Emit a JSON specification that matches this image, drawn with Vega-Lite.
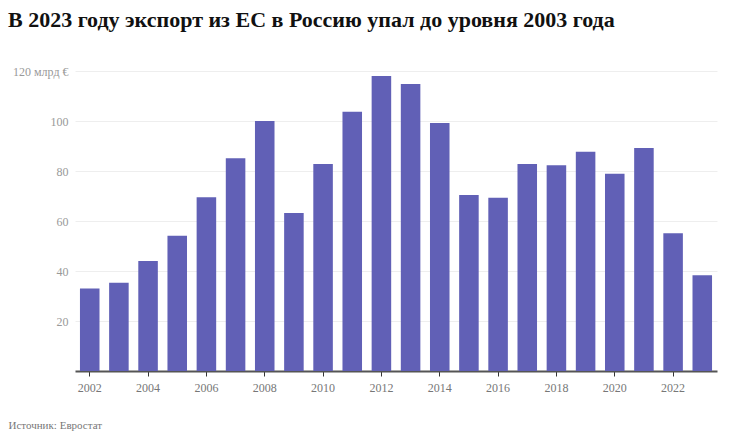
{
  "$schema": "https://vega.github.io/schema/vega-lite/v6.json",
  "width": 642,
  "height": 300,
  "autosize": {"type": "none"},
  "padding": {"left": 75, "top": 71, "right": 27, "bottom": 65},
  "background": "white",
  "title": {
    "text": "В 2023 году экспорт из ЕС в Россию упал до уровня 2003 года",
    "anchor": "start",
    "frame": "group",
    "font": "Liberation Serif",
    "fontSize": 22,
    "fontWeight": "bold",
    "color": "#111",
    "baseline": "alphabetic",
    "dx": -67,
    "offset": 16
  },
  "data": {
    "values": [
      {"year": 2002, "value": 33.0},
      {"year": 2003, "value": 35.3},
      {"year": 2004, "value": 44.0},
      {"year": 2005, "value": 54.1},
      {"year": 2006, "value": 69.5},
      {"year": 2007, "value": 85.1},
      {"year": 2008, "value": 100.0},
      {"year": 2009, "value": 63.2},
      {"year": 2010, "value": 82.8},
      {"year": 2011, "value": 103.7},
      {"year": 2012, "value": 118.0},
      {"year": 2013, "value": 114.8},
      {"year": 2014, "value": 99.2},
      {"year": 2015, "value": 70.4},
      {"year": 2016, "value": 69.3},
      {"year": 2017, "value": 82.8},
      {"year": 2018, "value": 82.3},
      {"year": 2019, "value": 87.7},
      {"year": 2020, "value": 78.9},
      {"year": 2021, "value": 89.2},
      {"year": 2022, "value": 55.1},
      {"year": 2023, "value": 38.3}
    ]
  },
  "mark": {"type": "bar", "color": "#6160b6"},
  "encoding": {
    "x": {
      "field": "year",
      "type": "ordinal",
      "scale": {"paddingInner": 0.33, "paddingOuter": 0.17},
      "axis": {
        "values": [2002, 2004, 2006, 2008, 2010, 2012, 2014, 2016, 2018, 2020, 2022],
        "labelAngle": 0,
        "labelFont": "Liberation Serif",
        "labelFontSize": 12,
        "labelColor": "#777",
        "labelPadding": 6,
        "domainColor": "#555",
        "domainWidth": 2,
        "tickColor": "#333",
        "tickSize": 5,
        "title": "Источник: Евростат",
        "titleFont": "Liberation Serif",
        "titleFontSize": 11,
        "titleFontWeight": "normal",
        "titleColor": "#777",
        "titleAnchor": "start",
        "titleAlign": "left",
        "titleBaseline": "alphabetic",
        "titleX": -67,
        "titleY": 57
      }
    },
    "y": {
      "field": "value",
      "type": "quantitative",
      "scale": {"domain": [0, 120]},
      "axis": {
        "values": [20, 40, 60, 80, 100, 120],
        "labelExpr": "datum.value == 120 ? '120 млрд €' : datum.label",
        "labelFont": "Liberation Serif",
        "labelFontSize": 12,
        "labelColor": "#999",
        "labelPadding": 7,
        "domain": false,
        "ticks": false,
        "gridColor": "#eeeeee",
        "title": null
      }
    }
  },
  "config": {"view": {"stroke": null}}
}
